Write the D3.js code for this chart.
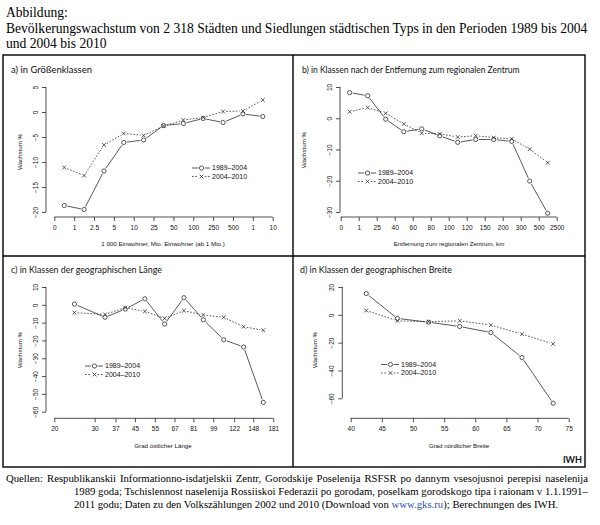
<!DOCTYPE html>
<html><head><meta charset="utf-8">
<script src="https://cdn.jsdelivr.net/npm/d3@7"></script>
<style>
body{margin:0;background:#fff;}
svg{display:block;}
</style></head>
<body>
<svg id="c" width="600" height="525"></svg>
<script>
// ---------- data ----------
const aLabels = ["0","1","2.5","5","10","25","50","100","250","500","1","10"];
const a1989 = [-18.7,-19.5,-11.8,-6.1,-5.6,-2.7,-2.3,-1.3,-2.1,-0.4,-0.9];
const a2004 = [-11.1,-12.7,-6.6,-4.3,-4.7,-2.8,-1.6,-1.1,0.1,0.2,2.4];
const aYTicks = [-20,-15,-10,-5,0,5];

const bLabels = ["0","1","25","40","60","80","100","120","150","200","300","500","2500"];
const b1989 = [8.2,7.2,-0.3,-4.3,-3.4,-5.6,-7.7,-6.8,-6.8,-7.4,-20.1,-30.4];
const b2004 = [2.1,3.4,1.6,-1.8,-4.8,-5.0,-6.0,-5.6,-6.2,-6.6,-9.9,-14.2];
const bYTicks = [-30,-20,-10,0,10];

const cBounds = [20,30,37,45,55,67,81,99,122,148,181];
const c1989 = [0.4,-7.0,-2.4,3.4,-10.8,4.0,-8.4,-19.6,-23.7,-54.8];
const c2004 = [-4.4,-5.4,-1.6,-3.7,-7.6,-3.3,-5.7,-7.0,-12.3,-14.3];
const cYTicks = [-60,-50,-40,-30,-20,-10,0,10];

const dTicks = [40,45,50,55,60,65,70,75];
const dX = [42.5,47.5,52.5,57.5,62.5,67.5,72.5];
const d1989 = [15.3,-2.6,-5.3,-8.4,-12.7,-30.7,-63.5];
const d2004 = [3.1,-4.3,-5.0,-4.3,-7.4,-13.9,-20.9];
const dYTicks = [-60,-40,-20,0,20];

const seriesNames = ["1989\u20132004","2004\u20132010"];

// ---------- drawing ----------
const svg = d3.select("#c");
const INK = "#222";
const SANS = "'Liberation Sans', Arial, sans-serif";
const SERIF = "'Liberation Serif', 'Times New Roman', serif";
const TITLEF = "Lato, 'Open Sans', sans-serif";

// scale a text's font size so that it spans the width seen in the reference
function fit(sel, width) {
  const w = sel.node().getComputedTextLength();
  const fs = parseFloat(sel.attr("font-size") || sel.node().parentNode.getAttribute("font-size"));
  const nfs = fs * width / w;
  sel.attr("font-size", nfs);
  return nfs;
}
// justify a line by widening its word spaces
function justify(sel, width) {
  const w = sel.node().getComputedTextLength();
  const spaces = (sel.text().match(/ /g) || []).length;
  if (spaces && w < width) sel.attr("word-spacing", (width - w) / spaces);
}

// heading
const head = svg.append("g").attr("font-family", SERIF).attr("font-size", 14).attr("fill", "#000");
const h2 = head.append("text").attr("x", 6).attr("y", 33).attr("font-size", 14)
  .text("Bevölkerungswachstum von 2 318 Städten und Siedlungen städtischen Typs in den Perioden 1989 bis 2004");
const hfs = fit(h2, 582);
head.append("text").attr("x", 6).attr("y", 17).attr("font-size", hfs).text("Abbildung:");
head.append("text").attr("x", 6).attr("y", 48).attr("font-size", hfs).text("und 2004 bis 2010");

// frame
const fr = svg.append("g").attr("stroke", "#000").attr("stroke-width", 1.4).attr("fill", "none");
fr.append("rect").attr("x", 3).attr("y", 55).attr("width", 582).attr("height", 412);
fr.append("line").attr("x1", 293).attr("x2", 293).attr("y1", 55).attr("y2", 467);
fr.append("line").attr("x1", 3).attr("x2", 585).attr("y1", 256).attr("y2", 256);

function panel(o) {
  const g = svg.append("g");
  const t = g.append("text").attr("x", o.titleX).attr("y", o.titleY).attr("font-family", TITLEF)
    .attr("font-size", 10).attr("fill", "#111").text(o.title);
  fit(t, o.titleW);

  const x = o.x, y = o.y;
  // y axis
  const yAx = g.append("g").attr("transform", `translate(${o.yAxisX},0)`)
    .call(d3.axisLeft(y).tickValues(o.yTicks).tickSize(4).tickPadding(3).tickFormat(d3.format("d")));
  yAx.select(".domain").attr("d", `M0,${y(d3.min(o.yTicks))}V${y(d3.max(o.yTicks))}`);
  yAx.selectAll("line,path").attr("stroke", INK).attr("stroke-width", 0.8);
  yAx.selectAll("text").attr("font-family", SANS).attr("font-size", 6.5).attr("fill", "#111")
    .attr("text-anchor", "middle").attr("dy", null)
    .attr("transform", "translate(-10,0) rotate(-90)").attr("x", 0).attr("y", 0)
    .attr("dominant-baseline", "middle");

  // x axis
  const xAx = g.append("g").attr("transform", `translate(0,${o.xAxisY})`)
    .call(d3.axisBottom(x).tickValues(o.xTicks).tickSize(4).tickPadding(4).tickFormat(o.xFormat));
  xAx.select(".domain").attr("d", `M${x(o.xTicks[0])},0H${x(o.xTicks[o.xTicks.length-1])}`);
  xAx.selectAll("line,path").attr("stroke", INK).attr("stroke-width", 0.8);
  xAx.selectAll("text").attr("font-family", SANS).attr("font-size", 6.5).attr("fill", "#111");

  // axis titles
  g.append("text").attr("transform", `translate(${o.yLabX},${o.yLabY}) rotate(-90)`)
    .attr("text-anchor", "middle").attr("font-family", SANS).attr("font-size", 6.2).attr("fill", "#111")
    .text("Wachstum %");
  g.append("text").attr("x", o.xLabX).attr("y", o.xLabY).attr("text-anchor", "middle")
    .attr("font-family", SANS).attr("font-size", 6.2).attr("fill", "#111").text(o.xLabel);

  // series
  o.series.forEach((s, si) => {
    const pts = s.vals.map((v, i) => [o.px(i), y(v)]);
    drawTypeB(g, pts, si);
  });

  // legend
  seriesNames.forEach((nm, si) => {
    const ly = o.legY + si * 8.5;
    drawTypeB(g, [[o.legX, ly], [o.legX + 12, ly]], si, true);
    g.append("text").attr("x", o.legX + 17).attr("y", ly).attr("dy", "0.35em")
      .attr("font-family", SANS).attr("font-size", 7).attr("fill", "#111").text(nm);
  });
}

function marker(g, p, si) {
  if (si === 0) {
    g.append("circle").attr("cx", p[0]).attr("cy", p[1]).attr("r", 2.1)
      .attr("fill", "none").attr("stroke", INK).attr("stroke-width", 0.75);
  } else {
    const r = 1.9;
    g.append("path").attr("d", `M${p[0]-r},${p[1]-r}L${p[0]+r},${p[1]+r}M${p[0]-r},${p[1]+r}L${p[0]+r},${p[1]-r}`)
      .attr("stroke", INK).attr("stroke-width", 0.75);
  }
}

function seg(g, a, b, si) {
  g.append("line").attr("x1", a[0]).attr("y1", a[1]).attr("x2", b[0]).attr("y2", b[1])
    .attr("stroke", INK).attr("stroke-width", 0.75)
    .attr("stroke-dasharray", si === 0 ? null : "1.6,1.6");
}

// R type="b": segments with gaps around points
function drawTypeB(g, pts, si, legend) {
  const gap = 3.2;
  if (legend) {
    const [a, b] = pts;
    const mid = [(a[0] + b[0]) / 2 + 0.5, a[1]];
    seg(g, [a[0] - 3, a[1]], [mid[0] - gap, a[1]], si);
    seg(g, [mid[0] + gap, a[1]], [b[0] + 3, a[1]], si);
    marker(g, mid, si);
    return;
  }
  for (let i = 0; i < pts.length - 1; i++) {
    const a = pts[i], b = pts[i + 1];
    const dx = b[0] - a[0], dy = b[1] - a[1], L = Math.hypot(dx, dy);
    if (L > 2 * gap) {
      const ux = dx / L, uy = dy / L;
      seg(g, [a[0] + ux * gap, a[1] + uy * gap], [b[0] - ux * gap, b[1] - uy * gap], si);
    }
  }
  pts.forEach(p => marker(g, p, si));
}

// panel a
{
  const x = d3.scaleLinear().domain([0, aLabels.length - 1]).range([54.3, 272.7]);
  const y = d3.scaleLinear().domain([-20, 5]).range([212, 87]);
  panel({title: "a) in Größenklassen", titleX: 11, titleY: 73, titleW: 81, x, y,
    xTicks: d3.range(aLabels.length), xFormat: i => aLabels[i], yTicks: aYTicks,
    yAxisX: 46, xAxisY: 217, px: i => x(i + 0.5),
    series: [{vals: a1989}, {vals: a2004}],
    yLabX: 22, yLabY: 152, xLabX: 163, xLabY: 246,
    xLabel: "1 000 Einwohner, Mio. Einwohner (ab 1 Mio.)", legX: 195, legY: 168});
}
// panel b
{
  const x = d3.scaleLinear().domain([0, bLabels.length - 1]).range([340.7, 556.7]);
  const y = d3.scaleLinear().domain([-30, 10]).range([212, 87]);
  panel({title: "b) in Klassen nach der Entfernung zum regionalen Zentrum", titleX: 302, titleY: 73, titleW: 218, x, y,
    xTicks: d3.range(bLabels.length), xFormat: i => bLabels[i], yTicks: bYTicks,
    yAxisX: 340, xAxisY: 217, px: i => x(i + 0.5),
    series: [{vals: b1989}, {vals: b2004}],
    yLabX: 306, yLabY: 150, xLabX: 449, xLabY: 246,
    xLabel: "Entfernung zum regionalen Zentrum, km", legX: 361, legY: 173});
}
// panel c
{
  const x = d3.scaleLog().domain([cBounds[0], cBounds[cBounds.length - 1]]).range([54.3, 273.3]);
  const y = d3.scaleLinear().domain([-60, 10]).range([411.7, 287]);
  panel({title: "c) in Klassen der geographischen Länge", titleX: 11, titleY: 273, titleW: 151, x, y,
    xTicks: cBounds, xFormat: d3.format("d"), yTicks: cYTicks,
    yAxisX: 46, xAxisY: 418.3, px: i => (x(cBounds[i]) + x(cBounds[i + 1])) / 2,
    series: [{vals: c1989}, {vals: c2004}],
    yLabX: 22, yLabY: 350, xLabX: 163, xLabY: 448,
    xLabel: "Grad östlicher Länge", legX: 88, legY: 366});
}
// panel d
{
  const x = d3.scaleLinear().domain([40, 75]).range([350.7, 568.7]);
  const y = d3.scaleLinear().domain([-60, 20]).range([398.3, 287]);
  panel({title: "d) in Klassen der geographischen Breite", titleX: 300, titleY: 273, titleW: 152, x, y,
    xTicks: dTicks, xFormat: d3.format("d"), yTicks: dYTicks,
    yAxisX: 342.3, xAxisY: 418.3, px: i => x(dX[i]),
    series: [{vals: d1989}, {vals: d2004}],
    yLabX: 317, yLabY: 350, xLabX: 459, xLabY: 448,
    xLabel: "Grad nördlicher Breite", legX: 384, legY: 364.5});
}

// IWH
svg.append("text").attr("x", 582).attr("y", 463).attr("text-anchor", "end")
  .attr("font-family", TITLEF).attr("font-weight", "bold").attr("font-size", 9).attr("fill", "#111").text("IWH");

// footer (justified like the reference)
const ft = svg.append("g").attr("font-family", SERIF).attr("font-size", 12.3).attr("fill", "#000");
const f2 = ft.append("text").attr("x", 74).attr("y", 495).attr("font-size", 12.3)
  .text("1989 goda; Tschislennost naselenija Rossiiskoi Federazii po gorodam, poselkam gorodskogo tipa i raionam v 1.1.1991–");
const ffs = fit(f2, 514);
ft.attr("font-size", ffs);
ft.append("text").attr("x", 6).attr("y", 482).text("Quellen:");
const f1 = ft.append("text").attr("x", 47).attr("y", 482)
  .text("Respublikanskii Informationno-isdatjelskii Zentr, Gorodskije Poselenija RSFSR po dannym vsesojusnoi perepisi naselenija");
justify(f1, 541);
const l3 = ft.append("text").attr("x", 74).attr("y", 508);
l3.append("tspan").text("2011 godu; Daten zu den Volkszählungen 2002 und 2010 (Download von ");
l3.append("tspan").attr("fill", "#2a4fb5").text("www.gks.ru");
l3.append("tspan").text("); Berechnungen des IWH.");
</script>
</body></html>
